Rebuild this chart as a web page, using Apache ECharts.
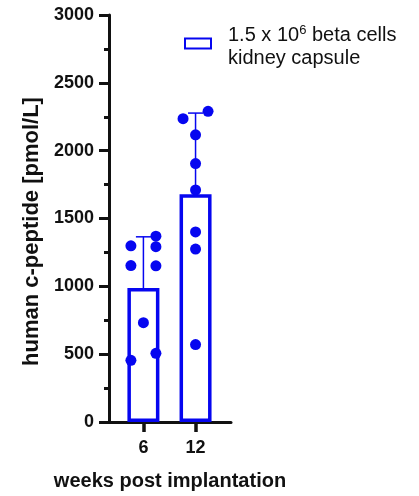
<!DOCTYPE html>
<html>
<head>
<meta charset="utf-8">
<script src="https://cdn.jsdelivr.net/npm/echarts@6/dist/echarts.min.js"></script>
<style>
html,body{margin:0;padding:0;background:#fff;}
#chart{width:419px;height:496px;}
</style>
</head>
<body>
<div id="chart"></div>
<script>
// ---- data ----
const weekLabels = ['6', '12'];
const weekPositions = [1, 2];
const meanValues = [987, 1679];
const errorTops = [1365, 2277];
const points6 = [1299, 1370, 1292, 1153, 1151, 732, 455, 506];
const points12 = [2236, 2290, 2117, 1905, 1710, 1401, 1275, 571];
const yTicks = [0, 500, 1000, 1500, 2000, 2500, 3000];
const seriesName = '1.5 x 10^6 beta cells / kidney capsule';

// ---- styling / layout ----
const BLUE = '#0606f0';
const FONT = '"Liberation Sans", Arial, sans-serif';
const side6 = [-1, 1, 1, -1, 1, 0, -1, 1];
const side12 = [-1, 1, 0, 0, 0, 0, 0, 0];
const JIT = 12.5;

const scatterData = [];
points6.forEach((v, i) => scatterData.push({ value: [weekPositions[0], v], symbolOffset: [side6[i] * JIT, 0] }));
points12.forEach((v, i) => scatterData.push({ value: [weekPositions[1], v], symbolOffset: [side12[i] * JIT, 0] }));

const chart = echarts.init(document.getElementById('chart'), null, { renderer: 'canvas' });
chart.setOption({
  animation: false,
  backgroundColor: '#fff',
  grid: { left: 109, top: 15, right: 188, bottom: 70, containLabel: false },
  legend: {
    show: true,
    data: [seriesName],
    left: 179,
    top: 19,
    itemWidth: 26,
    itemHeight: 10,
    icon: 'rect',
    selectedMode: false,
    formatter: function () {
      return '{a|1.5 x 10}{s|6}{a| beta cells}\n{a|kidney capsule}';
    },
    textStyle: {
      fontFamily: FONT,
      fontSize: 20,
      color: '#111',
      padding: [7, 0, 0, 12],
      rich: {
        a: { fontFamily: FONT, fontSize: 20, color: '#111', lineHeight: 23 },
        s: { fontFamily: FONT, fontSize: 13, color: '#111', verticalAlign: 'top', lineHeight: 23, padding: [0, 0, 8, 0] }
      }
    }
  },
  xAxis: {
    type: 'value',
    min: 0.34,
    max: 2.68,
    name: 'weeks post implantation',
    nameLocation: 'middle',
    nameGap: 49,
    nameTextStyle: { fontFamily: FONT, fontSize: 20, fontWeight: 'bold', color: '#111' },
    splitLine: { show: false },
    axisLine: { show: true, onZero: false, lineStyle: { color: '#111', width: 3 } },
    axisTick: { show: true, customValues: weekPositions, length: 10, lineStyle: { color: '#111', width: 3.5 } },
    axisLabel: {
      show: true,
      customValues: weekPositions,
      margin: 17,
      fontFamily: FONT, fontSize: 18, fontWeight: 'bold', color: '#111',
      formatter: function (v) { const i = weekPositions.indexOf(v); return i >= 0 ? weekLabels[i] : ''; }
    }
  },
  yAxis: {
    type: 'value',
    min: 0,
    max: 3000,
    interval: 500,
    name: 'human c-peptide [pmol/L]',
    nameLocation: 'middle',
    nameGap: 66,
    nameRotate: 90,
    nameTextStyle: { fontFamily: FONT, fontSize: 22, fontWeight: 'bold', color: '#111', padding: [0, 26, 0, 0] },
    splitLine: { show: false },
    axisLine: { show: true, lineStyle: { color: '#111', width: 3 } },
    axisTick: { show: true, length: 10, lineStyle: { color: '#111', width: 3 } },
    minorTick: { show: true, splitNumber: 2, length: 5, lineStyle: { color: '#111', width: 3 } },
    axisLabel: {
      margin: 15,
      fontFamily: FONT, fontSize: 18, fontWeight: 'bold', color: '#111',
      formatter: function (v) { return yTicks.indexOf(v) >= 0 ? String(v) : ''; }
    }
  },
  series: [
    {
      name: seriesName,
      type: 'bar',
      barWidth: 32,
      data: weekPositions.map((p, i) => [p, meanValues[i]]),
      itemStyle: { color: '#fff', borderColor: BLUE, borderWidth: 3.5 },
      z: 2
    },
    {
      name: 'errorbars',
      type: 'custom',
      data: weekPositions.map((p, i) => [p, meanValues[i], errorTops[i]]),
      renderItem: function (params, api) {
        const x = api.value(0);
        const p0 = api.coord([x, api.value(1)]);
        const p1 = api.coord([x, api.value(2)]);
        const half = 7.5;
        return {
          type: 'group',
          children: [
            { type: 'line', shape: { x1: p0[0], y1: p0[1], x2: p1[0], y2: p1[1] }, style: { stroke: BLUE, lineWidth: 1.5 } },
            { type: 'line', shape: { x1: p1[0] - half, y1: p1[1], x2: p1[0] + half, y2: p1[1] }, style: { stroke: BLUE, lineWidth: 1.5 } }
          ]
        };
      },
      z: 3
    },
    {
      name: 'points',
      type: 'scatter',
      symbol: 'circle',
      symbolSize: 11,
      data: scatterData,
      itemStyle: { color: BLUE, opacity: 1 },
      z: 4
    }
  ]
});
</script>
</body>
</html>
